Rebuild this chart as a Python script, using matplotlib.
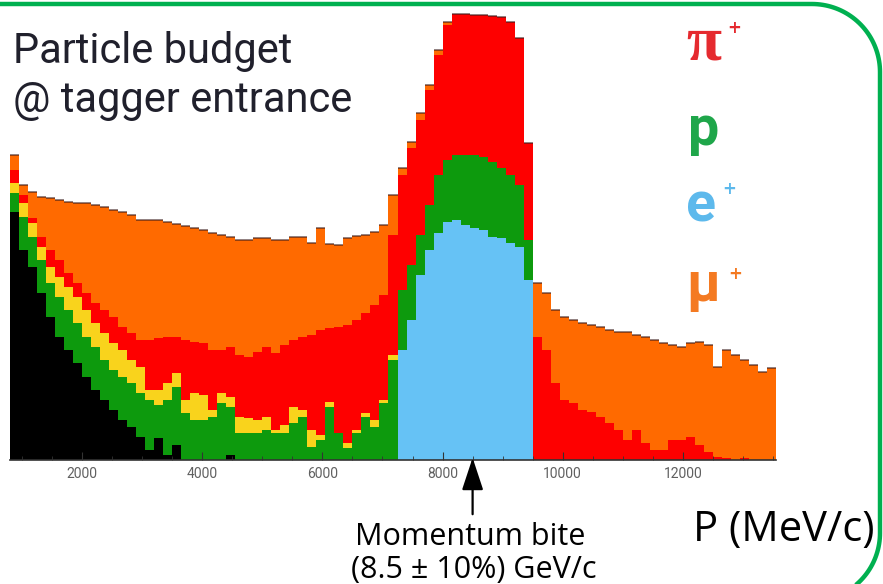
import matplotlib
matplotlib.use("Agg")
import matplotlib.pyplot as plt
from matplotlib.ticker import MultipleLocator
import numpy as np

# momentum binning (MeV/c)
p_min = 800
bin_width = 150
n_bins = 85

# counts per bin for each particle species (arbitrary units)
black = [248, 210, 193, 167, 143, 123, 110, 97, 83, 70,
         60, 50, 40, 33, 23, 10, 22, 5, 15, 0,
         0, 0, 0, 0, 5, 0, 0, 0, 0, 0,
         0, 0, 0, 0, 0, 0, 0, 0, 0, 0,
         0, 0, 0, 0, 0, 0, 0, 0, 0, 0,
         0, 0, 0, 0, 0, 0, 0, 0, 0, 0,
         0, 0, 0, 0, 0, 0, 0, 0, 0, 0,
         0, 0, 0, 0, 0, 0, 0, 0, 0, 0,
         0, 0, 0, 0, 0]
positrons = [0, 0, 0, 0, 0, 0, 0, 0, 0, 0,
             0, 0, 0, 0, 0, 0, 0, 0, 0, 0,
             0, 0, 0, 0, 0, 0, 0, 0, 0, 0,
             0, 0, 0, 0, 0, 0, 0, 0, 0, 0,
             0, 0, 0, 110, 140, 185, 210, 227, 238, 240,
             235, 232, 230, 223, 222, 217, 213, 180, 0, 0,
             0, 0, 0, 0, 0, 0, 0, 0, 0, 0,
             0, 0, 0, 0, 0, 0, 0, 0, 0, 0,
             0, 0, 0, 0, 0]
protons = [19, 33, 30, 33, 34, 40, 40, 40, 40, 43,
           40, 40, 43, 44, 44, 50, 33, 55, 58, 47,
           40, 40, 43, 57, 48, 27, 27, 27, 30, 27,
           27, 37, 43, 13, 20, 53, 27, 12, 27, 43,
           33, 57, 100, 60, 55, 40, 45, 58, 62, 65,
           70, 73, 73, 75, 70, 68, 62, 40, 0, 0,
           0, 0, 0, 0, 0, 0, 0, 0, 0, 0,
           0, 0, 0, 0, 0, 0, 0, 0, 0, 0,
           0, 0, 0, 0, 0]
yellow = [10, 14, 14, 13, 16, 20, 23, 26, 27, 24,
          27, 27, 27, 23, 26, 10, 15, 17, 14, 13,
          27, 25, 7, 10, 10, 16, 15, 13, 13, 3,
          8, 16, 7, 17, 5, 5, 0, 5, 3, 4,
          7, 3, 5, 0, 0, 0, 0, 0, 0, 0,
          0, 0, 0, 0, 0, 0, 0, 0, 0, 0,
          0, 0, 0, 0, 0, 0, 0, 0, 0, 0,
          0, 0, 0, 0, 0, 0, 0, 0, 0, 0,
          0, 0, 0, 0, 0]
pions = [13, 8, 5, 10, 17, 17, 14, 14, 17, 20,
         23, 26, 23, 27, 27, 50, 52, 46, 36, 60,
         51, 52, 60, 43, 50, 62, 61, 68, 70, 77,
         80, 67, 73, 95, 105, 74, 106, 118, 110, 100,
         115, 105, 120, 115, 117, 115, 115, 120, 135, 141,
         141, 140, 142, 146, 151, 153, 147, 97, 123, 110,
         77, 60, 57, 50, 48, 43, 37, 30, 20, 30,
         17, 10, 10, 20, 20, 23, 15, 8, 3, 2,
         0, 2, 0, 0, 0]
muons = [15, 10, 26, 40, 52, 60, 71, 80, 90, 98,
         103, 107, 115, 118, 120, 120, 118, 115, 113, 114,
         114, 113, 117, 115, 110, 115, 117, 114, 109, 113,
         105, 103, 100, 92, 102, 84, 82, 87, 84, 78,
         73, 70, 40, 7, 6, 7, 5, 5, 3, 0,
         0, 0, 0, 0, 0, 0, 0, 0, 54, 57,
         73, 83, 83, 87, 87, 90, 93, 98, 108, 95,
         106, 110, 107, 95, 93, 94, 103, 107, 90, 108,
         105, 98, 95, 88, 92]

tick_values = [2000, 4000, 6000, 8000, 10000, 12000]

edges = p_min + bin_width * np.arange(n_bins + 1)
layers = [
    (black, "#000000"),
    (positrons, "#66c2f5"),
    (protons, "#0d9a0d"),
    (yellow, "#f9d31c"),
    (pions, "#fe0000"),
    (muons, "#ff6a00"),
]

fig = plt.figure(figsize=(8.83, 5.84), dpi=100)
fig.patch.set_facecolor("white")
ax = fig.add_axes([10 / 883, 124 / 584, 766 / 883, 450 / 584])

cum = np.cumsum([np.array(v, dtype=float) for v, _ in layers], axis=0)
# draw cumulative fills from the top layer down so no seams show
for k in range(len(layers) - 1, -1, -1):
    ax.stairs(cum[k], edges, baseline=0, fill=True, color=layers[k][1], lw=0)
total = cum[-1]
ax.hlines(total, edges[:-1], edges[1:], color="#3a1c1c", lw=1.3, alpha=0.6)

ax.set_xlim(edges[0], edges[-1])
ax.set_ylim(0, 450)
for s in ["top", "left", "right"]:
    ax.spines[s].set_visible(False)
ax.spines["bottom"].set_color("#333333")
ax.spines["bottom"].set_linewidth(1.2)
ax.set_yticks([])
ax.set_xticks(tick_values)
ax.set_xticklabels([str(t) for t in tick_values], fontsize=10, color="#606060", family="Roboto")
ax.xaxis.set_minor_locator(MultipleLocator(500))
ax.tick_params(axis="x", which="major", direction="in", length=6, color="#333333", pad=5)
ax.tick_params(axis="x", which="minor", direction="in", length=3, color="#333333")
ax.set_facecolor("white")

ax.annotate("", xy=(8500, 5), xytext=(8500, -57), annotation_clip=False,
            arrowprops=dict(arrowstyle="-|>,head_length=1.0,head_width=0.33",
                            mutation_scale=20, color="black", lw=1.6))

# overlay in pixel units for the slide decorations
ov = fig.add_axes([0, 0, 1, 1])
ov.set_xlim(0, 883)
ov.set_ylim(584, 0)
ov.axis("off")

# rounded green frame (only top and right side are inside the picture)
r = 68
t1 = np.linspace(-np.pi / 2, 0, 40)
t2 = np.linspace(0, np.pi / 2, 40)
fx = np.concatenate([[-10], 812 + r * np.cos(t1), 812 + r * np.cos(t2), [-10]])
fy = np.concatenate([[4], 72 + r * np.sin(t1), 533 + r * np.sin(t2), [601]])
ov.plot(fx, fy, color="#00b050", lw=3.2, solid_capstyle="butt", clip_on=False)

ov.text(13, 63, "Particle budget", fontsize=30, color="#20202c", family="Roboto",
        fontweight="normal", va="baseline")
ov.text(13, 112, "@ tagger entrance", fontsize=30, color="#20202c", family="Roboto",
        fontweight="normal", va="baseline")

ov.text(686, 60, "π", fontsize=46, color="#e52a2f", family="Liberation Serif",
        fontweight="bold", va="baseline")
ov.text(727, 33, "+", fontsize=12, color="#e52a2f", fontweight="bold", va="baseline")
ov.text(688, 145, "p", fontsize=40, color="#1fa64a", family="Roboto", fontweight="bold", va="baseline")
ov.text(686, 221, "e", fontsize=40, color="#5db9ec", family="Roboto", fontweight="bold", va="baseline")
ov.text(722, 194, "+", fontsize=12, color="#5db9ec", fontweight="bold", va="baseline")
ov.text(686, 301, "μ", fontsize=40, color="#f47a22", family="Roboto", fontweight="bold", va="baseline")
ov.text(728, 279, "+", fontsize=12, color="#f47a22", fontweight="bold", va="baseline")

ov.text(784, 530, "P (MeV/c)", fontsize=30, color="black", family="Open Sans", ha="center", va="center")
ov.text(470, 537, "Momentum bite", fontsize=22, color="black", family="Open Sans", ha="center", va="center")
ov.text(474, 570, "(8.5 ± 10%) GeV/c", fontsize=22, color="black", family="Open Sans", ha="center", va="center")

fig.savefig("out.png", dpi=100, facecolor="white")
